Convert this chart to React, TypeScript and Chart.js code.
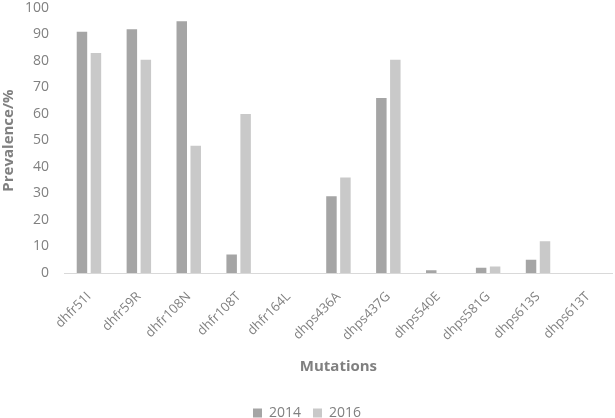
import React, { useEffect, useRef } from "react";
import { Chart, registerables } from "chart.js";

Chart.register(...registerables);

const categories = [
  "dhfr51I", "dhfr59R", "dhfr108N", "dhfr108T", "dhfr164L", "dhps436A",
  "dhps437G", "dhps540E", "dhps581G", "dhps613S", "dhps613T",
];
const values2014 = [91, 92, 95, 7, 0, 29, 66, 1, 2, 5, 0];
const values2016 = [83, 80.5, 48, 60, 0, 36, 80.5, 0, 2.5, 12, 0];
const yTicks = [0, 10, 20, 30, 40, 50, 60, 70, 80, 90, 100];

const FONT = "'Open Sans', 'Noto Sans', sans-serif";
const TEXT = "#808080";

export default function App() {
  const ref = useRef<HTMLCanvasElement>(null);
  useEffect(() => {
    document.body.style.margin = "0";
    const chart = new Chart(ref.current!, {
      type: "bar",
      data: {
        labels: categories,
        datasets: [
          { label: "2014", data: values2014, backgroundColor: "#a5a5a5", categoryPercentage: 0.56, barPercentage: 0.75 },
          { label: "2016", data: values2016, backgroundColor: "#c9c9c9", categoryPercentage: 0.56, barPercentage: 0.75 },
        ],
      },
      options: {
        animation: false,
        responsive: true,
        maintainAspectRatio: false,
        layout: { padding: { left: 0, right: 1, top: 0, bottom: -12 } },
        plugins: {
          tooltip: { enabled: false },
          legend: {
            position: "bottom",
            labels: {
              boxWidth: 9,
              boxHeight: 9,
              padding: 12,
              color: TEXT,
              font: { family: FONT, size: 14 },
            },
          },
        },
        scales: {
          x: {
            afterFit: (s: any) => {
              s.height = 121;
            },
            grid: { display: false, drawTicks: false },
            border: { color: "#d9d9d9", width: 1 },
            ticks: {
              color: TEXT,
              font: { family: FONT, size: 13 },
              minRotation: 45,
              maxRotation: 45,
              padding: 16,
            },
            title: {
              display: true,
              text: "Mutations",
              color: TEXT,
              font: { family: FONT, size: 15, weight: "bold" },
              padding: { top: 6, bottom: 18 },
            },
          },
          y: {
            min: 0,
            max: 100,
            afterFit: (s: any) => {
              s.width = 64;
              s.paddingTop = 8;
              s.paddingBottom = 0;
            },
            afterBuildTicks: (s: any) => {
              s.ticks = yTicks.map((v) => ({ value: v }));
            },
            grid: { display: false, drawTicks: false },
            border: { display: false },
            ticks: {
              color: TEXT,
              font: { family: FONT, size: 14 },
              padding: 15,
            },
            title: {
              display: true,
              text: "Prevalence/%",
              color: TEXT,
              font: { family: FONT, size: 15, weight: "bold" },
              padding: { top: 0, bottom: 0 },
            },
          },
        },
      },
    });
    return () => chart.destroy();
  }, []);
  return (
    <div style={{ width: 615, height: 418, position: "relative" }}>
      <canvas ref={ref} />
    </div>
  );
}
